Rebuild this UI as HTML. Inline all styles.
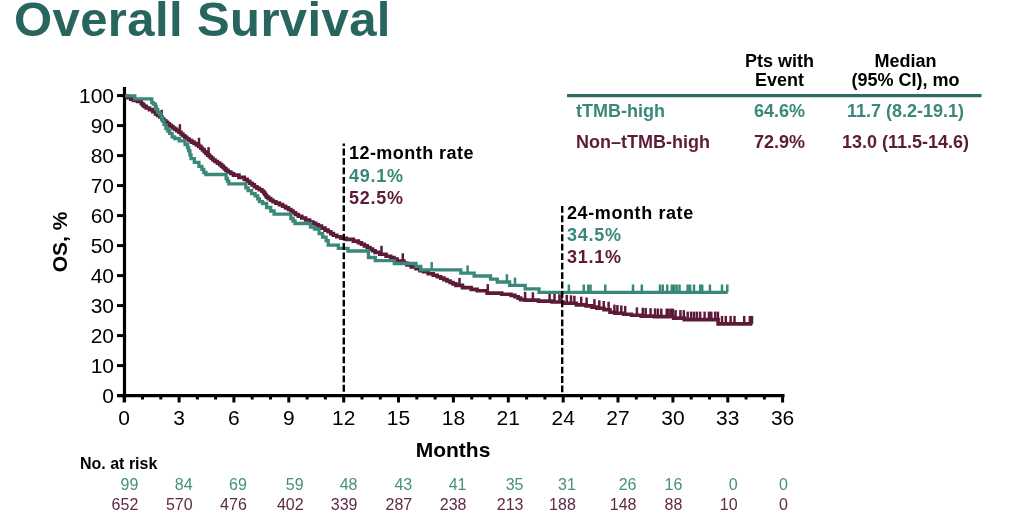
<!DOCTYPE html>
<html><head><meta charset="utf-8"><style>
html,body{margin:0;padding:0;background:#fff;width:1024px;height:518px;overflow:hidden}
svg{display:block;will-change:transform}
text{font-family:"Liberation Sans",sans-serif}
.ax{font-size:21px;fill:#000}
.axl{font-size:21px;font-weight:bold;fill:#000}
.axl2{font-size:21px;font-weight:bold;fill:#000}
.rt{font-size:18px;font-weight:bold;letter-spacing:0.45px}
.rp{font-size:18px;font-weight:bold;letter-spacing:0.75px}
.tb{font-size:18px;font-weight:bold}
.title{font-size:49px;font-weight:bold;letter-spacing:0.4px}
.nr{font-size:16px;font-weight:bold;fill:#000}
.rk{font-size:16px}
</style></head><body>
<svg width="1024" height="518" viewBox="0 0 1024 518">
<line x1="124.5" y1="87" x2="124.5" y2="402" stroke="#000" stroke-width="3.2"/>
<line x1="117" y1="395.6" x2="784.5" y2="395.6" stroke="#000" stroke-width="3.2"/>
<line x1="117" y1="395.6" x2="124" y2="395.6" stroke="#000" stroke-width="3"/>
<text x="114" y="402.9" text-anchor="end" class="ax">0</text>
<line x1="117" y1="365.6" x2="124" y2="365.6" stroke="#000" stroke-width="3"/>
<text x="114" y="372.9" text-anchor="end" class="ax">10</text>
<line x1="117" y1="335.6" x2="124" y2="335.6" stroke="#000" stroke-width="3"/>
<text x="114" y="342.9" text-anchor="end" class="ax">20</text>
<line x1="117" y1="305.6" x2="124" y2="305.6" stroke="#000" stroke-width="3"/>
<text x="114" y="312.9" text-anchor="end" class="ax">30</text>
<line x1="117" y1="275.6" x2="124" y2="275.6" stroke="#000" stroke-width="3"/>
<text x="114" y="282.9" text-anchor="end" class="ax">40</text>
<line x1="117" y1="245.6" x2="124" y2="245.6" stroke="#000" stroke-width="3"/>
<text x="114" y="252.9" text-anchor="end" class="ax">50</text>
<line x1="117" y1="215.6" x2="124" y2="215.6" stroke="#000" stroke-width="3"/>
<text x="114" y="222.9" text-anchor="end" class="ax">60</text>
<line x1="117" y1="185.6" x2="124" y2="185.6" stroke="#000" stroke-width="3"/>
<text x="114" y="192.9" text-anchor="end" class="ax">70</text>
<line x1="117" y1="155.6" x2="124" y2="155.6" stroke="#000" stroke-width="3"/>
<text x="114" y="162.9" text-anchor="end" class="ax">80</text>
<line x1="117" y1="125.6" x2="124" y2="125.6" stroke="#000" stroke-width="3"/>
<text x="114" y="132.9" text-anchor="end" class="ax">90</text>
<line x1="117" y1="95.6" x2="124" y2="95.6" stroke="#000" stroke-width="3"/>
<text x="114" y="102.9" text-anchor="end" class="ax">100</text>
<line x1="124.2" y1="395" x2="124.2" y2="402.5" stroke="#000" stroke-width="3"/>
<text x="124.2" y="425" text-anchor="middle" class="ax">0</text>
<line x1="142.5" y1="395" x2="142.5" y2="399.5" stroke="#000" stroke-width="3"/>
<line x1="160.8" y1="395" x2="160.8" y2="399.5" stroke="#000" stroke-width="3"/>
<line x1="179.1" y1="395" x2="179.1" y2="402.5" stroke="#000" stroke-width="3"/>
<text x="179.1" y="425" text-anchor="middle" class="ax">3</text>
<line x1="197.4" y1="395" x2="197.4" y2="399.5" stroke="#000" stroke-width="3"/>
<line x1="215.6" y1="395" x2="215.6" y2="399.5" stroke="#000" stroke-width="3"/>
<line x1="233.9" y1="395" x2="233.9" y2="402.5" stroke="#000" stroke-width="3"/>
<text x="233.9" y="425" text-anchor="middle" class="ax">6</text>
<line x1="252.2" y1="395" x2="252.2" y2="399.5" stroke="#000" stroke-width="3"/>
<line x1="270.5" y1="395" x2="270.5" y2="399.5" stroke="#000" stroke-width="3"/>
<line x1="288.8" y1="395" x2="288.8" y2="402.5" stroke="#000" stroke-width="3"/>
<text x="288.8" y="425" text-anchor="middle" class="ax">9</text>
<line x1="307.1" y1="395" x2="307.1" y2="399.5" stroke="#000" stroke-width="3"/>
<line x1="325.4" y1="395" x2="325.4" y2="399.5" stroke="#000" stroke-width="3"/>
<line x1="343.7" y1="395" x2="343.7" y2="402.5" stroke="#000" stroke-width="3"/>
<text x="343.7" y="425" text-anchor="middle" class="ax">12</text>
<line x1="362.0" y1="395" x2="362.0" y2="399.5" stroke="#000" stroke-width="3"/>
<line x1="380.3" y1="395" x2="380.3" y2="399.5" stroke="#000" stroke-width="3"/>
<line x1="398.5" y1="395" x2="398.5" y2="402.5" stroke="#000" stroke-width="3"/>
<text x="398.5" y="425" text-anchor="middle" class="ax">15</text>
<line x1="416.8" y1="395" x2="416.8" y2="399.5" stroke="#000" stroke-width="3"/>
<line x1="435.1" y1="395" x2="435.1" y2="399.5" stroke="#000" stroke-width="3"/>
<line x1="453.4" y1="395" x2="453.4" y2="402.5" stroke="#000" stroke-width="3"/>
<text x="453.4" y="425" text-anchor="middle" class="ax">18</text>
<line x1="471.7" y1="395" x2="471.7" y2="399.5" stroke="#000" stroke-width="3"/>
<line x1="490.0" y1="395" x2="490.0" y2="399.5" stroke="#000" stroke-width="3"/>
<line x1="508.3" y1="395" x2="508.3" y2="402.5" stroke="#000" stroke-width="3"/>
<text x="508.3" y="425" text-anchor="middle" class="ax">21</text>
<line x1="526.6" y1="395" x2="526.6" y2="399.5" stroke="#000" stroke-width="3"/>
<line x1="544.9" y1="395" x2="544.9" y2="399.5" stroke="#000" stroke-width="3"/>
<line x1="563.2" y1="395" x2="563.2" y2="402.5" stroke="#000" stroke-width="3"/>
<text x="563.2" y="425" text-anchor="middle" class="ax">24</text>
<line x1="581.5" y1="395" x2="581.5" y2="399.5" stroke="#000" stroke-width="3"/>
<line x1="599.7" y1="395" x2="599.7" y2="399.5" stroke="#000" stroke-width="3"/>
<line x1="618.0" y1="395" x2="618.0" y2="402.5" stroke="#000" stroke-width="3"/>
<text x="618.0" y="425" text-anchor="middle" class="ax">27</text>
<line x1="636.3" y1="395" x2="636.3" y2="399.5" stroke="#000" stroke-width="3"/>
<line x1="654.6" y1="395" x2="654.6" y2="399.5" stroke="#000" stroke-width="3"/>
<line x1="672.9" y1="395" x2="672.9" y2="402.5" stroke="#000" stroke-width="3"/>
<text x="672.9" y="425" text-anchor="middle" class="ax">30</text>
<line x1="691.2" y1="395" x2="691.2" y2="399.5" stroke="#000" stroke-width="3"/>
<line x1="709.5" y1="395" x2="709.5" y2="399.5" stroke="#000" stroke-width="3"/>
<line x1="727.8" y1="395" x2="727.8" y2="402.5" stroke="#000" stroke-width="3"/>
<text x="727.8" y="425" text-anchor="middle" class="ax">33</text>
<line x1="746.1" y1="395" x2="746.1" y2="399.5" stroke="#000" stroke-width="3"/>
<line x1="764.4" y1="395" x2="764.4" y2="399.5" stroke="#000" stroke-width="3"/>
<line x1="782.6" y1="395" x2="782.6" y2="402.5" stroke="#000" stroke-width="3"/>
<text x="782.6" y="425" text-anchor="middle" class="ax">36</text>
<text x="453" y="457.2" text-anchor="middle" class="axl">Months</text>
<text transform="translate(66.5,242) rotate(-90)" text-anchor="middle" class="axl2">OS, %</text>
<polyline points="125.2,96.1 127.3,96.1 127.3,97.7 129.4,97.7 130.8,97.7 130.8,99.1 133.5,99.1 133.5,100.4 134.8,100.4 137.5,100.4 137.5,101.5 140.2,101.5 141.3,101.5 141.3,103.7 142.4,103.7 142.9,103.7 142.9,105.1 144.0,105.1 144.0,106.4 144.5,106.4 146.2,106.4 146.2,108.0 147.8,108.0 149.4,108.0 149.4,109.6 151.0,109.6 152.7,109.6 152.7,111.8 154.3,111.8 155.4,111.8 155.4,113.9 156.4,113.9 157.5,113.9 157.5,115.5 159.8,115.5 159.8,117.0 160.9,117.0 161.9,117.0 161.9,119.0 163.8,119.0 163.8,120.9 164.8,120.9 165.7,120.9 165.7,122.4 167.5,122.4 167.5,123.8 169.3,123.8 169.3,125.3 170.2,125.3 171.1,125.3 171.1,126.6 172.9,126.6 172.9,128.0 174.7,128.0 174.7,129.3 175.6,129.3 176.7,129.3 176.7,130.8 178.9,130.8 178.9,132.3 180.0,132.3 181.0,132.3 181.0,134.0 182.9,134.0 182.9,135.7 184.9,135.7 184.9,137.3 186.8,137.3 186.8,139.0 187.8,139.0 189.1,139.0 189.1,140.6 191.6,140.6 191.6,142.1 192.9,142.1 194.1,142.1 194.1,143.5 196.4,143.5 196.4,145.0 198.7,145.0 198.7,146.4 199.9,146.4 200.8,146.4 200.8,148.2 202.5,148.2 202.5,149.9 204.2,149.9 204.2,151.7 205.9,151.7 205.9,153.4 206.8,153.4 207.7,153.4 207.7,155.1 209.5,155.1 209.5,156.7 211.2,156.7 211.2,158.3 213.0,158.3 213.0,160.0 213.9,160.0 215.1,160.0 215.1,161.5 217.4,161.5 217.4,163.1 219.7,163.1 219.7,164.6 220.9,164.6 221.6,164.6 221.6,166.1 223.1,166.1 223.1,167.5 224.5,167.5 224.5,168.9 226.0,168.9 226.0,170.4 226.7,170.4 228.0,170.4 228.0,172.0 230.8,172.0 230.8,173.5 233.5,173.5 233.5,175.1 234.8,175.1 238.9,175.1 238.9,177.4 242.9,177.4 244.3,177.4 244.3,179.4 247.2,179.4 247.2,181.4 248.7,181.4 249.8,181.4 249.8,183.2 252.1,183.2 252.1,184.9 254.4,184.9 254.4,186.7 255.6,186.7 256.9,186.7 256.9,188.2 259.4,188.2 259.4,189.8 261.9,189.8 261.9,191.3 263.2,191.3 263.7,191.3 263.7,192.8 264.7,192.8 264.7,194.2 265.7,194.2 265.7,195.7 266.7,195.7 266.7,197.1 267.2,197.1 268.4,197.1 268.4,198.6 270.7,198.6 270.7,200.2 273.0,200.2 273.0,201.7 274.2,201.7 275.9,201.7 275.9,203.1 279.4,203.1 279.4,204.6 281.1,204.6 282.6,204.6 282.6,206.2 285.6,206.2 285.6,207.9 288.5,207.9 288.5,209.5 290.0,209.5 291.0,209.5 291.0,211.0 292.0,211.0 293.1,211.0 293.1,212.8 295.5,212.8 295.5,214.5 296.6,214.5 298.3,214.5 298.3,216.2 301.8,216.2 301.8,218.0 303.5,218.0 305.6,218.0 305.6,220.0 309.6,220.0 309.6,222.0 311.7,222.0 313.1,222.0 313.1,223.4 315.8,223.4 315.8,224.7 318.4,224.7 318.4,226.1 319.8,226.1 321.5,226.1 321.5,228.1 325.0,228.1 325.0,230.1 326.7,230.1 328.1,230.1 328.1,231.8 330.8,231.8 330.8,233.6 333.4,233.6 333.4,235.3 334.8,235.3 336.8,235.3 336.8,236.8 340.9,236.8 340.9,238.2 342.9,238.2 346.4,238.2 346.4,239.4 349.9,239.4 353.4,239.4 353.4,241.1 356.8,241.1 358.4,241.1 358.4,242.7 360.0,242.7 361.4,242.7 361.4,244.3 364.4,244.3 364.4,245.9 367.2,245.9 367.2,247.5 368.7,247.5 370.0,247.5 370.0,249.1 372.5,249.1 372.5,250.8 375.1,250.8 375.1,252.4 376.4,252.4 379.8,252.4 379.8,254.3 383.2,254.3 386.1,254.3 386.1,256.2 389.0,256.2 390.7,256.2 390.7,257.6 394.0,257.6 394.0,259.1 395.7,259.1 397.1,259.1 397.1,261.1 398.6,261.1 402.5,261.1 403.9,261.1 403.9,263.0 406.9,263.0 406.9,264.9 408.3,264.9 411.2,264.9 411.2,266.9 414.1,266.9 416.0,266.9 416.0,268.8 419.9,268.8 419.9,270.7 421.8,270.7 423.5,270.7 423.5,271.8 425.2,271.8 428.2,271.8 428.2,273.7 431.3,273.7 433.2,273.7 433.2,275.2 437.2,275.2 437.2,276.7 439.1,276.7 440.7,276.7 440.7,278.1 443.9,278.1 443.9,279.6 447.0,279.6 447.0,281.0 448.6,281.0 450.1,281.0 450.1,282.5 453.0,282.5 453.0,283.9 455.9,283.9 455.9,285.4 457.3,285.4 462.5,285.4 462.5,287.6 467.7,287.6 471.2,287.6 471.2,289.4 474.7,289.4 477.2,289.4 477.2,290.8 479.8,290.8 487.1,290.8 487.1,293.1 494.4,293.1 501.7,293.1 501.7,294.2 509.0,294.2 511.0,294.2 511.0,295.4 514.9,295.4 514.9,296.7 516.9,296.7 518.1,296.7 518.1,298.1 520.6,298.1 520.6,299.6 521.8,299.6 525.2,299.6 525.2,300.1 528.6,300.1 538.4,300.1 538.4,301.1 548.1,301.1 552.0,301.1 552.0,302.0 555.9,302.0 563.0,302.0 563.0,303.2 570.0,303.2 576.4,303.2 576.4,304.9 582.7,304.9 586.1,304.9 586.1,305.9 589.5,305.9 592.0,305.9 592.0,307.1 596.8,307.1 596.8,308.3 599.3,308.3 604.1,308.3 604.1,309.8 609.0,309.8 610.0,309.8 610.0,312.2 611.0,312.2 614.9,312.2 614.9,313.2 618.8,313.2 623.7,313.2 623.7,314.2 628.6,314.2 631.5,314.2 631.5,315.2 634.5,315.2 641.3,315.2 641.3,316.1 648.1,316.1 654.5,316.1 654.5,316.6 660.8,316.6 673.7,316.6 673.7,318.1 684.3,318.1 684.3,319.6 718.1,319.6 718.1,323.9 752.4,323.9" fill="none" stroke="#5d1b38" stroke-width="3.6" stroke-linejoin="miter"/>
<line x1="161.7" y1="117.8" x2="161.7" y2="109.8" stroke="#5d1b38" stroke-width="2.5"/>
<line x1="179.9" y1="132.2" x2="179.9" y2="124.2" stroke="#5d1b38" stroke-width="2.5"/>
<line x1="199.0" y1="145.8" x2="199.0" y2="137.8" stroke="#5d1b38" stroke-width="2.5"/>
<line x1="208.6" y1="155.1" x2="208.6" y2="147.1" stroke="#5d1b38" stroke-width="2.5"/>
<line x1="381.5" y1="253.8" x2="381.5" y2="245.8" stroke="#5d1b38" stroke-width="2.5"/>
<line x1="402.8" y1="261.3" x2="402.8" y2="253.3" stroke="#5d1b38" stroke-width="2.5"/>
<line x1="459.5" y1="285.9" x2="459.5" y2="277.9" stroke="#5d1b38" stroke-width="2.5"/>
<line x1="487.8" y1="292.1" x2="487.8" y2="284.1" stroke="#5d1b38" stroke-width="2.5"/>
<line x1="525.1" y1="299.8" x2="525.1" y2="291.8" stroke="#5d1b38" stroke-width="2.5"/>
<line x1="532.9" y1="300.3" x2="532.9" y2="292.3" stroke="#5d1b38" stroke-width="2.5"/>
<line x1="549.6" y1="301.3" x2="549.6" y2="293.3" stroke="#5d1b38" stroke-width="2.5"/>
<line x1="554.5" y1="301.8" x2="554.5" y2="293.8" stroke="#5d1b38" stroke-width="2.5"/>
<line x1="559.4" y1="302.3" x2="559.4" y2="294.3" stroke="#5d1b38" stroke-width="2.5"/>
<line x1="561.5" y1="302.5" x2="561.5" y2="294.5" stroke="#5d1b38" stroke-width="2.5"/>
<line x1="566.8" y1="302.9" x2="566.8" y2="294.9" stroke="#5d1b38" stroke-width="2.5"/>
<line x1="571.0" y1="303.3" x2="571.0" y2="295.3" stroke="#5d1b38" stroke-width="2.5"/>
<line x1="574.4" y1="303.8" x2="574.4" y2="295.8" stroke="#5d1b38" stroke-width="2.5"/>
<line x1="581.2" y1="304.7" x2="581.2" y2="296.7" stroke="#5d1b38" stroke-width="2.5"/>
<line x1="586.6" y1="305.5" x2="586.6" y2="297.5" stroke="#5d1b38" stroke-width="2.5"/>
<line x1="594.4" y1="307.1" x2="594.4" y2="299.1" stroke="#5d1b38" stroke-width="2.5"/>
<line x1="599.3" y1="308.3" x2="599.3" y2="300.3" stroke="#5d1b38" stroke-width="2.5"/>
<line x1="603.7" y1="309.0" x2="603.7" y2="301.0" stroke="#5d1b38" stroke-width="2.5"/>
<line x1="608.6" y1="309.7" x2="608.6" y2="301.7" stroke="#5d1b38" stroke-width="2.5"/>
<line x1="614.4" y1="312.6" x2="614.4" y2="304.6" stroke="#5d1b38" stroke-width="2.5"/>
<line x1="617.4" y1="313.0" x2="617.4" y2="305.0" stroke="#5d1b38" stroke-width="2.5"/>
<line x1="621.3" y1="313.5" x2="621.3" y2="305.5" stroke="#5d1b38" stroke-width="2.5"/>
<line x1="625.2" y1="313.9" x2="625.2" y2="305.9" stroke="#5d1b38" stroke-width="2.5"/>
<line x1="636.9" y1="315.4" x2="636.9" y2="307.4" stroke="#5d1b38" stroke-width="2.5"/>
<line x1="642.8" y1="315.7" x2="642.8" y2="307.7" stroke="#5d1b38" stroke-width="2.5"/>
<line x1="645.7" y1="315.9" x2="645.7" y2="307.9" stroke="#5d1b38" stroke-width="2.5"/>
<line x1="650.6" y1="316.2" x2="650.6" y2="308.2" stroke="#5d1b38" stroke-width="2.5"/>
<line x1="655.0" y1="316.4" x2="655.0" y2="308.4" stroke="#5d1b38" stroke-width="2.5"/>
<line x1="657.9" y1="316.5" x2="657.9" y2="308.5" stroke="#5d1b38" stroke-width="2.5"/>
<line x1="661.3" y1="316.6" x2="661.3" y2="308.6" stroke="#5d1b38" stroke-width="2.5"/>
<line x1="666.7" y1="316.6" x2="666.7" y2="308.6" stroke="#5d1b38" stroke-width="2.5"/>
<line x1="668.6" y1="316.6" x2="668.6" y2="308.6" stroke="#5d1b38" stroke-width="2.5"/>
<line x1="671.0" y1="316.6" x2="671.0" y2="308.6" stroke="#5d1b38" stroke-width="2.5"/>
<line x1="673.0" y1="316.6" x2="673.0" y2="308.6" stroke="#5d1b38" stroke-width="2.5"/>
<line x1="675.6" y1="318.1" x2="675.6" y2="310.1" stroke="#5d1b38" stroke-width="2.5"/>
<line x1="680.4" y1="318.1" x2="680.4" y2="310.1" stroke="#5d1b38" stroke-width="2.5"/>
<line x1="683.8" y1="318.1" x2="683.8" y2="310.1" stroke="#5d1b38" stroke-width="2.5"/>
<line x1="687.7" y1="319.6" x2="687.7" y2="311.6" stroke="#5d1b38" stroke-width="2.5"/>
<line x1="691.1" y1="319.6" x2="691.1" y2="311.6" stroke="#5d1b38" stroke-width="2.5"/>
<line x1="694.0" y1="319.6" x2="694.0" y2="311.6" stroke="#5d1b38" stroke-width="2.5"/>
<line x1="696.9" y1="319.6" x2="696.9" y2="311.6" stroke="#5d1b38" stroke-width="2.5"/>
<line x1="700.2" y1="319.6" x2="700.2" y2="311.6" stroke="#5d1b38" stroke-width="2.5"/>
<line x1="704.6" y1="319.6" x2="704.6" y2="311.6" stroke="#5d1b38" stroke-width="2.5"/>
<line x1="708.9" y1="319.6" x2="708.9" y2="311.6" stroke="#5d1b38" stroke-width="2.5"/>
<line x1="711.3" y1="319.6" x2="711.3" y2="311.6" stroke="#5d1b38" stroke-width="2.5"/>
<line x1="715.2" y1="319.6" x2="715.2" y2="311.6" stroke="#5d1b38" stroke-width="2.5"/>
<line x1="717.9" y1="319.6" x2="717.9" y2="311.6" stroke="#5d1b38" stroke-width="2.5"/>
<line x1="722.0" y1="323.9" x2="722.0" y2="315.9" stroke="#5d1b38" stroke-width="2.5"/>
<line x1="725.8" y1="323.9" x2="725.8" y2="315.9" stroke="#5d1b38" stroke-width="2.5"/>
<line x1="730.6" y1="323.9" x2="730.6" y2="315.9" stroke="#5d1b38" stroke-width="2.5"/>
<line x1="734.5" y1="323.9" x2="734.5" y2="315.9" stroke="#5d1b38" stroke-width="2.5"/>
<line x1="744.2" y1="323.9" x2="744.2" y2="315.9" stroke="#5d1b38" stroke-width="2.5"/>
<line x1="749.9" y1="323.9" x2="749.9" y2="315.9" stroke="#5d1b38" stroke-width="2.5"/>
<line x1="752.0" y1="323.9" x2="752.0" y2="315.9" stroke="#5d1b38" stroke-width="2.5"/>
<polyline points="125.2,95.8 134.8,95.8 134.8,98.8 151.6,98.8 151.8,98.8 151.8,102.6 152.1,102.6 153.4,102.6 153.4,104.2 154.8,104.2 155.4,104.2 155.4,106.9 155.9,106.9 156.4,106.9 156.4,109.6 157.0,109.6 157.8,109.6 157.8,112.3 158.6,112.3 159.6,112.3 159.6,114.0 160.5,114.0 161.1,114.0 161.1,117.0 161.7,117.0 162.4,117.0 162.4,120.9 163.2,120.9 164.0,120.9 164.0,124.7 164.8,124.7 165.9,124.7 165.9,128.6 167.1,128.6 167.9,128.6 167.9,131.0 169.6,131.0 169.6,133.4 170.4,133.4 172.1,133.4 172.1,136.9 173.8,136.9 174.6,136.9 174.6,138.5 175.4,138.5 179.2,138.5 179.2,140.8 183.1,140.8 185.1,140.8 185.1,144.7 187.0,144.7 187.6,144.7 187.6,147.8 188.7,147.8 188.7,150.9 189.3,150.9 189.9,150.9 189.9,154.8 191.0,154.8 191.0,158.6 191.6,158.6 194.3,158.6 194.3,162.4 197.0,162.4 198.9,162.4 198.9,166.3 200.9,166.3 201.9,166.3 201.9,169.4 203.8,169.4 203.8,172.5 204.8,172.5 205.9,172.5 205.9,174.5 207.0,174.5 225.5,174.5 226.1,174.5 226.1,178.5 226.7,178.5 227.4,178.5 227.4,181.2 228.8,181.2 228.8,183.8 229.5,183.8 245.2,183.8 245.8,183.8 245.8,187.8 246.3,187.8 248.1,187.8 248.1,190.7 249.8,190.7 251.6,190.7 251.6,193.6 253.3,193.6 255.1,193.6 255.1,195.9 256.8,195.9 257.7,195.9 257.7,198.8 259.4,198.8 259.4,201.7 260.3,201.7 262.6,201.7 262.6,203.5 264.9,203.5 266.6,203.5 266.6,207.5 268.4,207.5 270.7,207.5 270.7,211.0 273.0,211.0 274.1,211.0 274.1,214.2 275.3,214.2 289.6,214.2 290.8,214.2 290.8,218.5 292.0,218.5 293.0,218.5 293.0,221.0 295.0,221.0 295.0,223.5 296.0,223.5 309.3,223.5 310.5,223.5 310.5,227.2 311.7,227.2 314.5,227.2 314.5,229.0 317.4,229.0 319.1,229.0 319.1,233.6 320.9,233.6 322.6,233.6 322.6,237.1 324.4,237.1 326.1,237.1 326.1,240.6 327.9,240.6 328.2,240.6 328.2,245.2 328.5,245.2 338.3,245.2 338.3,248.4 348.0,248.4 348.0,251.0 368.4,251.0 368.4,257.5 375.3,257.5 375.3,260.6 394.3,260.6 394.3,263.5 416.0,263.5 416.0,266.4 420.8,266.4 420.8,269.8 460.8,269.8 460.8,273.2 474.1,273.2 474.1,276.0 490.5,276.0 490.5,279.1 497.3,279.1 497.3,282.0 509.6,282.0 509.6,285.4 525.2,285.4 525.2,288.9 539.0,288.9 539.0,292.3 727.7,292.3" fill="none" stroke="#398879" stroke-width="3.3" stroke-linejoin="miter"/>
<line x1="431.7" y1="269.8" x2="431.7" y2="262.0" stroke="#398879" stroke-width="2.5"/>
<line x1="467.6" y1="273.2" x2="467.6" y2="265.4" stroke="#398879" stroke-width="2.5"/>
<line x1="506.9" y1="282.0" x2="506.9" y2="274.2" stroke="#398879" stroke-width="2.5"/>
<line x1="515.0" y1="285.4" x2="515.0" y2="277.6" stroke="#398879" stroke-width="2.5"/>
<line x1="568.9" y1="292.3" x2="568.9" y2="284.5" stroke="#398879" stroke-width="2.5"/>
<line x1="583.8" y1="292.3" x2="583.8" y2="284.5" stroke="#398879" stroke-width="2.5"/>
<line x1="588.3" y1="292.3" x2="588.3" y2="284.5" stroke="#398879" stroke-width="2.5"/>
<line x1="590.5" y1="292.3" x2="590.5" y2="284.5" stroke="#398879" stroke-width="2.5"/>
<line x1="605.3" y1="292.3" x2="605.3" y2="284.5" stroke="#398879" stroke-width="2.5"/>
<line x1="633.0" y1="292.3" x2="633.0" y2="284.5" stroke="#398879" stroke-width="2.5"/>
<line x1="641.8" y1="292.3" x2="641.8" y2="284.5" stroke="#398879" stroke-width="2.5"/>
<line x1="660.0" y1="292.3" x2="660.0" y2="284.5" stroke="#398879" stroke-width="2.5"/>
<line x1="662.8" y1="292.3" x2="662.8" y2="284.5" stroke="#398879" stroke-width="2.5"/>
<line x1="667.2" y1="292.3" x2="667.2" y2="284.5" stroke="#398879" stroke-width="2.5"/>
<line x1="671.8" y1="292.3" x2="671.8" y2="284.5" stroke="#398879" stroke-width="2.5"/>
<line x1="674.2" y1="292.3" x2="674.2" y2="284.5" stroke="#398879" stroke-width="2.5"/>
<line x1="676.6" y1="292.3" x2="676.6" y2="284.5" stroke="#398879" stroke-width="2.5"/>
<line x1="679.5" y1="292.3" x2="679.5" y2="284.5" stroke="#398879" stroke-width="2.5"/>
<line x1="687.7" y1="292.3" x2="687.7" y2="284.5" stroke="#398879" stroke-width="2.5"/>
<line x1="690.1" y1="292.3" x2="690.1" y2="284.5" stroke="#398879" stroke-width="2.5"/>
<line x1="694.0" y1="292.3" x2="694.0" y2="284.5" stroke="#398879" stroke-width="2.5"/>
<line x1="700.2" y1="292.3" x2="700.2" y2="284.5" stroke="#398879" stroke-width="2.5"/>
<line x1="702.2" y1="292.3" x2="702.2" y2="284.5" stroke="#398879" stroke-width="2.5"/>
<line x1="709.9" y1="292.3" x2="709.9" y2="284.5" stroke="#398879" stroke-width="2.5"/>
<line x1="722.0" y1="292.3" x2="722.0" y2="284.5" stroke="#398879" stroke-width="2.5"/>
<line x1="727.3" y1="292.3" x2="727.3" y2="284.5" stroke="#398879" stroke-width="2.5"/>
<line x1="343.8" y1="143.5" x2="343.8" y2="395" stroke="#000" stroke-width="2.4" stroke-dasharray="6.8 2.65" stroke-dashoffset="4.35"/>
<line x1="562.2" y1="206" x2="562.2" y2="395" stroke="#000" stroke-width="2.4" stroke-dasharray="6.8 2.65"/>
<text x="349" y="159.2" class="rt" fill="#000">12-month rate</text>
<text x="349" y="181.6" class="rp" fill="#398879">49.1%</text>
<text x="349" y="203.5" class="rp" fill="#5d1b38">52.5%</text>
<text x="567" y="219.2" class="rt" fill="#000" style="letter-spacing:0.6px">24-month rate</text>
<text x="567" y="241" class="rp" fill="#398879">34.5%</text>
<text x="567" y="262.5" class="rp" fill="#5d1b38">31.1%</text>
<line x1="567" y1="95.6" x2="981.5" y2="95.6" stroke="#2d6b67" stroke-width="3.4"/>
<text x="779.5" y="66.6" text-anchor="middle" class="tb" fill="#000">Pts with</text>
<text x="779.5" y="85.9" text-anchor="middle" class="tb" fill="#000">Event</text>
<text x="905.5" y="66.6" text-anchor="middle" class="tb" fill="#000">Median</text>
<text x="905.5" y="85.9" text-anchor="middle" class="tb" fill="#000">(95% CI), mo</text>
<text x="576" y="117.1" class="tb" fill="#398879">tTMB-high</text>
<text x="576" y="147.6" class="tb" fill="#5d1b38">Non&#8211;tTMB-high</text>
<text x="779.5" y="117.1" text-anchor="middle" class="tb" fill="#398879">64.6%</text>
<text x="779.5" y="147.6" text-anchor="middle" class="tb" fill="#5d1b38">72.9%</text>
<text x="905.5" y="117.1" text-anchor="middle" class="tb" fill="#398879">11.7 (8.2-19.1)</text>
<text x="905.5" y="147.6" text-anchor="middle" class="tb" fill="#5d1b38">13.0 (11.5-14.6)</text>
<text x="14" y="36" class="title" fill="#28655f">Overall Survival</text>
<text x="80" y="468.5" class="nr">No. at risk</text>
<text x="138.3" y="489.6" text-anchor="end" class="rk" fill="#45907f">99</text>
<text x="138.3" y="510" text-anchor="end" class="rk" fill="#5e2a44">652</text>
<text x="192.6" y="489.6" text-anchor="end" class="rk" fill="#45907f">84</text>
<text x="192.6" y="510" text-anchor="end" class="rk" fill="#5e2a44">570</text>
<text x="246.8" y="489.6" text-anchor="end" class="rk" fill="#45907f">69</text>
<text x="246.8" y="510" text-anchor="end" class="rk" fill="#5e2a44">476</text>
<text x="303.6" y="489.6" text-anchor="end" class="rk" fill="#45907f">59</text>
<text x="303.6" y="510" text-anchor="end" class="rk" fill="#5e2a44">402</text>
<text x="357.5" y="489.6" text-anchor="end" class="rk" fill="#45907f">48</text>
<text x="357.5" y="510" text-anchor="end" class="rk" fill="#5e2a44">339</text>
<text x="412.2" y="489.6" text-anchor="end" class="rk" fill="#45907f">43</text>
<text x="412.2" y="510" text-anchor="end" class="rk" fill="#5e2a44">287</text>
<text x="466.5" y="489.6" text-anchor="end" class="rk" fill="#45907f">41</text>
<text x="466.5" y="510" text-anchor="end" class="rk" fill="#5e2a44">238</text>
<text x="523.5" y="489.6" text-anchor="end" class="rk" fill="#45907f">35</text>
<text x="523.5" y="510" text-anchor="end" class="rk" fill="#5e2a44">213</text>
<text x="575.8" y="489.6" text-anchor="end" class="rk" fill="#45907f">31</text>
<text x="575.8" y="510" text-anchor="end" class="rk" fill="#5e2a44">188</text>
<text x="636.5" y="489.6" text-anchor="end" class="rk" fill="#45907f">26</text>
<text x="636.5" y="510" text-anchor="end" class="rk" fill="#5e2a44">148</text>
<text x="682.3" y="489.6" text-anchor="end" class="rk" fill="#45907f">16</text>
<text x="682.3" y="510" text-anchor="end" class="rk" fill="#5e2a44">88</text>
<text x="737.6" y="489.6" text-anchor="end" class="rk" fill="#45907f">0</text>
<text x="737.6" y="510" text-anchor="end" class="rk" fill="#5e2a44">10</text>
<text x="787.9" y="489.6" text-anchor="end" class="rk" fill="#45907f">0</text>
<text x="787.9" y="510" text-anchor="end" class="rk" fill="#5e2a44">0</text>
</svg>
</body></html>
